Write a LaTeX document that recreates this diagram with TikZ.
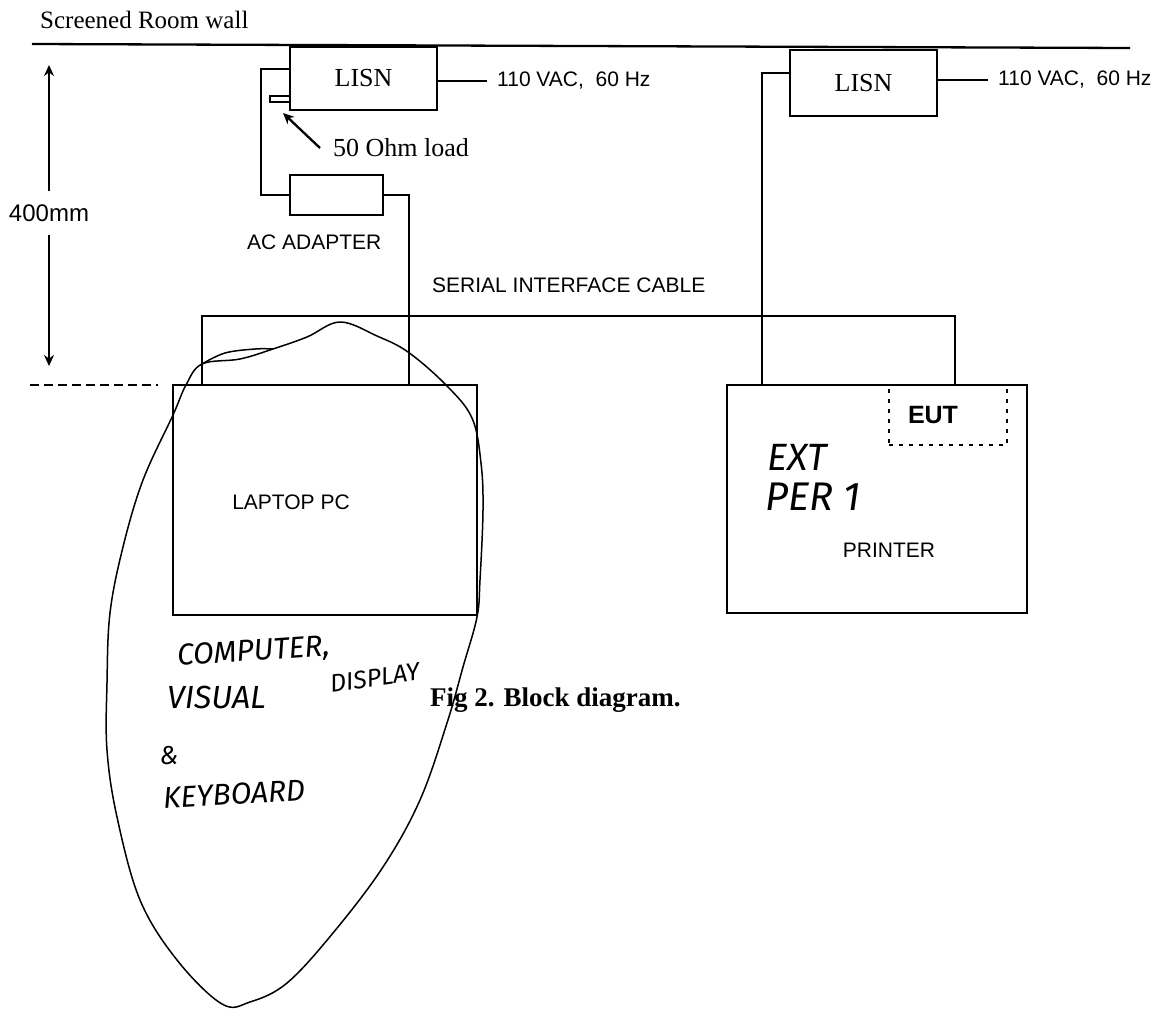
\documentclass[tikz,border=0pt]{standalone}
\usepackage{fontspec}
\setmainfont{Liberation Serif}
\setsansfont{Liberation Sans}
\newfontfamily\handfont{Fira Sans}
\usetikzlibrary{arrows.meta,calc}
\begin{document}
\begin{tikzpicture}[x=1pt,y=-1pt,
  wire/.style={line width=2.3pt},
  box/.style={draw,line width=2.3pt,rectangle,inner sep=0pt},
  lbl/.style={font=\sffamily\fontsize{21}{24}\selectfont,inner sep=0pt},
  serif/.style={font=\rmfamily\fontsize{26}{30}\selectfont,inner sep=0pt},
  hand/.style={font=\handfont\itshape\fontsize{30}{34}\selectfont,inner sep=0pt},
  ink/.style={line width=1.5pt},
  tip/.style={-{Stealth[length=11pt,width=10pt]}}]
\useasboundingbox (0,0) rectangle (1165,1009);

% title and wall
\node[serif,font=\rmfamily\fontsize{25}{30}\selectfont,anchor=base west] (title) at (40,28) {Screened Room wall};
\coordinate (wallL) at (32,44);
\coordinate (wallR) at (1130,48);
\draw[wire] (wallL) -- (wallR);

% boxes
\node[box,serif,minimum width=147pt,minimum height=63pt] (lisnA) at (363.5,78.5) {LISN};
\node[box,serif,minimum width=147pt,minimum height=66pt] (lisnB) at (863.5,83) {LISN};
\node[box,minimum width=93pt,minimum height=40pt] (adapter) at (336.5,195) {};
\node[box,minimum width=304pt,minimum height=230pt] (laptop) at (325,500) {};
\node[draw,line width=2.8pt,dash pattern=on 4pt off 6pt,minimum width=118pt,minimum height=60pt,inner sep=0pt] (eut) at (948,415) {};
\node[box,minimum width=300pt,minimum height=228pt] (printer) at (877,499) {};
\node[font=\sffamily\bfseries\fontsize{25}{28}\selectfont,inner sep=0pt] (euttext) at (933,415) {EUT};
\node[draw,line width=1.8pt,minimum width=20pt,minimum height=6pt,inner sep=0pt] (stub) at (280,99) {};

% mains supplies
\node[lbl,anchor=west,inner xsep=10pt] (vacA) at (487,81) {110 VAC,\ \ 60 Hz};
\draw[wire] (lisnA.east |- vacA.west) -- (vacA.west);
\node[lbl,anchor=west,inner xsep=10pt] (vacB) at (988,80) {110 VAC,\ \ 60 Hz};
\draw[wire] (lisnB.east |- vacB.west) -- (vacB.west);

% 400 mm dimension
\node[font=\sffamily\fontsize{24}{26}\selectfont,minimum height=43pt,inner sep=0pt] (dim) at (49,213) {400mm};
\coordinate (dimTop) at (49,65);
\coordinate (dimBot) at (49,366);
\draw[wire,tip] (dim.north) -- (dimTop);
\draw[wire,tip] (dim.south) -- (dimBot);
\coordinate (dashL) at (30,385);
\coordinate (dashR) at (158,385);
\draw[line width=1.8pt,dash pattern=on 9pt off 5pt] (dashL) -- (dashR);

% wiring
\coordinate (aIn) at ($(lisnA.north west)+(0,23)$);
\draw[wire] (aIn) -- ++(-28,0) |- (adapter.west);
\coordinate (lapPow) at (409,385);
\draw[wire] (adapter.east) -| (lapPow);
\coordinate (lapSer) at (202,385);
\coordinate (prnSer) at (955,385);
\draw[wire] (lapSer) -- ++(0,-69) -| (prnSer);
\coordinate (bIn) at ($(lisnB.north west)+(0,24)$);
\coordinate (prnPow) at (762,385);
\draw[wire] (bIn) -| (prnPow);

% labels
\node[lbl,anchor=west] (aclbl) at (247,242) {AC ADAPTER};
\node[lbl,anchor=west] (serlbl) at (432,285) {SERIAL INTERFACE CABLE};
\node[lbl] (laplbl) at (291,502) {LAPTOP PC};
\node[lbl] (prnlbl) at (889,550) {PRINTER};
\node[serif,anchor=west,inner xsep=13pt] (ohm) at (320,148) {50 Ohm load};
\coordinate (loadTip) at (283,113);
\draw[wire,tip] (ohm.west) -- (loadTip);
\node[font=\rmfamily\bfseries\fontsize{27}{30}\selectfont,anchor=west,inner sep=0pt] (cap) at (430,700) {Fig 2. Block diagram.};

% handwritten notes
\node[hand,rotate=4,anchor=west] (h1) at (177,658) {COMPUTER,};
\node[hand,font=\handfont\itshape\fontsize{32}{36}\selectfont,anchor=west] (h2) at (167,697) {VISUAL};
\node[hand,font=\handfont\itshape\fontsize{25}{28}\selectfont,rotate=8,anchor=west] (h3) at (330,684) {DISPLAY};
\node[hand,font=\handfont\itshape\fontsize{26}{28}\selectfont] (h4) at (169,756) {\&};
\node[hand,rotate=3,anchor=west] (h5) at (163,798) {KEYBOARD};
\node[hand,font=\handfont\itshape\fontsize{38}{42}\selectfont] (h6) at (797,457) {EXT};
\node[hand,font=\handfont\itshape\fontsize{40}{44}\selectfont,anchor=west] (h7) at (765,497) {PER 1};

% ink loop
\draw[ink] plot[smooth cycle, tension=0.6] coordinates {
 (273,349) (307,337) (340,322) (377,336) (408,352) (446,385) (472,418)
 (481,463) (483,510) (480,580) (477,617) (463,667) (447,723) (420,800)
 (383,867) (333,933) (287,983) (250,1002) (222,1004) (177,960) (140,900)
 (117,817) (107,750) (107,683) (110,613) (123,547) (143,480) (173,415)
 (186,385) (202,364) (240,359)};
\draw[ink] plot[smooth, tension=0.6] coordinates {(202,364) (225,353) (255,349) (273,349)};
\end{tikzpicture}
\end{document}
